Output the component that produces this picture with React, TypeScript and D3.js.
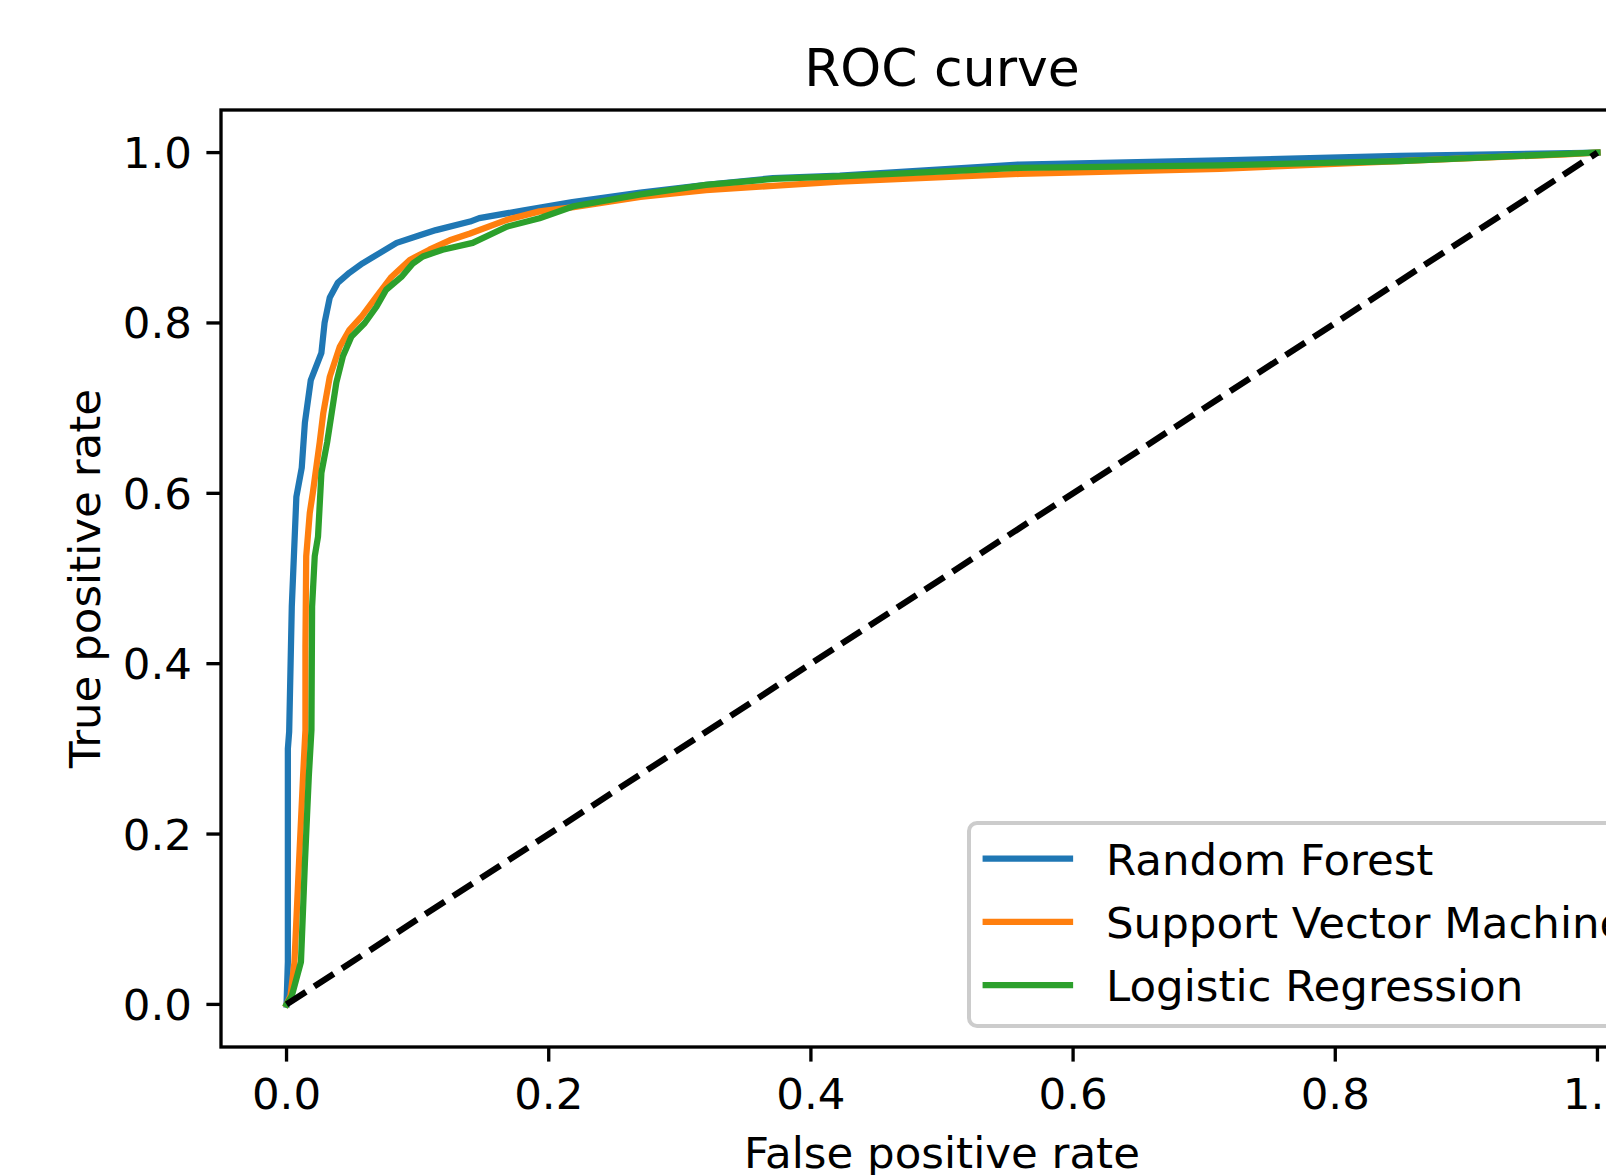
import React, { useEffect, useRef } from "react";
import * as d3 from "d3";

// ROC curves (fpr, tpr)
const rfFpr = [0, 0.001, 0.001, 0.002, 0.004, 0.0075, 0.0116, 0.014, 0.0185, 0.0266, 0.029, 0.033, 0.039, 0.048, 0.058, 0.071, 0.084, 0.1016, 0.114, 0.14, 0.147, 0.18, 0.218, 0.27, 0.32, 0.371, 0.422, 0.559, 0.712, 0.849, 1.0];
const rfTpr = [0, 0.05, 0.3, 0.32, 0.467, 0.596, 0.63, 0.683, 0.733, 0.765, 0.8, 0.83, 0.847, 0.859, 0.87, 0.882, 0.894, 0.903, 0.909, 0.919, 0.923, 0.932, 0.942, 0.953, 0.962, 0.97, 0.973, 0.986, 0.991, 0.996, 1.0];

const svmFpr = [0, 0.003, 0.006, 0.0095, 0.0126, 0.0144, 0.0144, 0.015, 0.0177, 0.02, 0.0253, 0.028, 0.033, 0.0406, 0.048, 0.057, 0.0686, 0.08, 0.094, 0.109, 0.1245, 0.14, 0.168, 0.193, 0.219, 0.27, 0.32, 0.371, 0.422, 0.559, 0.712, 0.849, 0.976, 1.0];
const svmTpr = [0, 0.01, 0.049, 0.166, 0.268, 0.322, 0.42, 0.526, 0.577, 0.6, 0.66, 0.694, 0.737, 0.772, 0.792, 0.807, 0.831, 0.854, 0.874, 0.886, 0.897, 0.905, 0.921, 0.931, 0.936, 0.948, 0.956, 0.961, 0.966, 0.975, 0.981, 0.99, 0.998, 1.0];

const lrFpr = [0, 0.004, 0.011, 0.014, 0.017, 0.019, 0.0195, 0.0215, 0.024, 0.0266, 0.031, 0.038, 0.043, 0.0495, 0.0597, 0.0686, 0.076, 0.0876, 0.0965, 0.104, 0.119, 0.142, 0.168, 0.193, 0.219, 0.27, 0.32, 0.371, 0.422, 0.559, 0.712, 0.849, 1.0];
const lrTpr = [0, 0.01, 0.05, 0.166, 0.268, 0.322, 0.467, 0.526, 0.549, 0.624, 0.66, 0.73, 0.761, 0.784, 0.8, 0.819, 0.839, 0.854, 0.87, 0.878, 0.886, 0.894, 0.913, 0.923, 0.937, 0.951, 0.962, 0.969, 0.972, 0.982, 0.985, 0.99, 1.0];

const chanceLine = [0, 1];

const seriesNames = ["Random Forest", "Support Vector Machine", "Logistic Regression"];
const seriesColors = ["#1f77b4", "#ff7f0e", "#2ca02c"];
const xTicks = [0, 0.2, 0.4, 0.6, 0.8, 1.0];
const yTicks = [0, 0.2, 0.4, 0.6, 0.8, 1.0];

export default function App() {
  const ref = useRef<SVGSVGElement>(null);

  useEffect(() => {
    const W = 1606, H = 1175;
    const left = 221, right = 1663, top = 110, bottom = 1047;
    const fs = 43.5;
    const font = "'DejaVu Sans', sans-serif";

    const svg = d3.select(ref.current);
    svg.selectAll("*").remove();
    svg.attr("width", W).attr("height", H);

    const x = d3.scaleLinear().domain([-0.05, 1.05]).range([left, right]);
    const y = d3.scaleLinear().domain([-0.05, 1.05]).range([bottom, top]);

    svg.append("rect").attr("width", W).attr("height", H).attr("fill", "white");

    svg.append("clipPath").attr("id", "plotclip")
      .append("rect")
      .attr("x", left).attr("y", top)
      .attr("width", right - left).attr("height", bottom - top);

    const plot = svg.append("g").attr("clip-path", "url(#plotclip)");

    const line = d3.line<[number, number]>()
      .x(d => x(d[0]))
      .y(d => y(d[1]));

    const data = [
      d3.zip(rfFpr, rfTpr),
      d3.zip(svmFpr, svmTpr),
      d3.zip(lrFpr, lrTpr),
    ] as [number, number][][];

    data.forEach((pts, i) => {
      plot.append("path")
        .attr("d", line(pts))
        .attr("fill", "none")
        .attr("stroke", seriesColors[i])
        .attr("stroke-width", 6.25)
        .attr("stroke-linejoin", "round")
        .attr("stroke-linecap", "square");
    });

    // dashed diagonal
    plot.append("path")
      .attr("d", line(d3.zip(chanceLine, chanceLine) as [number, number][]))
      .attr("fill", "none")
      .attr("stroke", "black")
      .attr("stroke-width", 6.25)
      .attr("stroke-dasharray", "23.1,10");

    // x axis ticks
    const xa = svg.append("g");
    xTicks.forEach(t => {
      xa.append("line")
        .attr("x1", x(t)).attr("x2", x(t))
        .attr("y1", bottom).attr("y2", bottom + 14.6)
        .attr("stroke", "black").attr("stroke-width", 3.33);
      xa.append("text")
        .attr("x", x(t)).attr("y", 1109)
        .attr("text-anchor", "middle")
        .style("font-family", font).style("font-size", fs + "px")
        .text(t.toFixed(1));
    });

    const ya = svg.append("g");
    yTicks.forEach(t => {
      ya.append("line")
        .attr("x1", left - 14.6).attr("x2", left)
        .attr("y1", y(t)).attr("y2", y(t))
        .attr("stroke", "black").attr("stroke-width", 3.33);
      ya.append("text")
        .attr("x", 192).attr("y", y(t) + 15.5)
        .attr("text-anchor", "end")
        .style("font-family", font).style("font-size", fs + "px")
        .text(t.toFixed(1));
    });

    // spines
    svg.append("rect")
      .attr("x", left).attr("y", top)
      .attr("width", right - left).attr("height", bottom - top)
      .attr("fill", "none").attr("stroke", "black").attr("stroke-width", 3.33);

    // legend
    const lg = svg.append("g");
    const lgLeft = 969, lgTop = 823, lgBottom = 1026, lgRight = 1642;
    lg.append("rect")
      .attr("x", lgLeft).attr("y", lgTop)
      .attr("width", lgRight - lgLeft).attr("height", lgBottom - lgTop)
      .attr("rx", 8).attr("ry", 8)
      .attr("fill", "white").attr("fill-opacity", 0.8)
      .attr("stroke", "#cccccc").attr("stroke-width", 4);
    const rowY = [858.5, 921.8, 985.2];
    seriesNames.forEach((name, i) => {
      lg.append("line")
        .attr("x1", 985.7).attr("x2", 1070)
        .attr("y1", rowY[i]).attr("y2", rowY[i])
        .attr("stroke", seriesColors[i]).attr("stroke-width", 6.25)
        .attr("stroke-linecap", "square");
      lg.append("text")
        .attr("x", 1106).attr("y", rowY[i] + 16)
        .style("font-family", font).style("font-size", fs + "px")
        .text(name);
    });

    // title + labels
    svg.append("text")
      .attr("x", (left + right) / 2).attr("y", 86)
      .attr("text-anchor", "middle")
      .style("font-family", font).style("font-size", "52px")
      .text("ROC curve");

    svg.append("text")
      .attr("x", (left + right) / 2).attr("y", 1168)
      .attr("text-anchor", "middle")
      .style("font-family", font).style("font-size", fs + "px")
      .text("False positive rate");

    svg.append("text")
      .attr("transform", `translate(100,${(top + bottom) / 2}) rotate(-90)`)
      .attr("text-anchor", "middle")
      .style("font-family", font).style("font-size", fs + "px")
      .text("True positive rate");
  }, []);

  return (
    <svg ref={ref} style={{ position: "absolute", left: 0, top: 0, display: "block" }} />
  );
}
